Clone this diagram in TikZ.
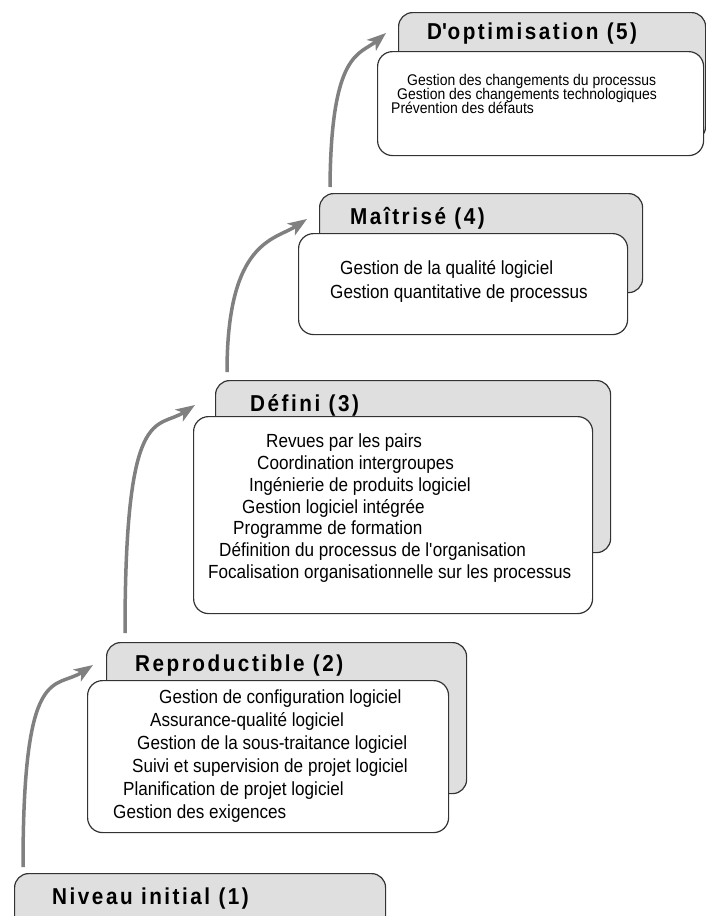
\documentclass[tikz,border=0pt]{standalone}
\usepackage{fontspec}
\setmainfont{Liberation Sans}
\newfontfamily\titlefont[LetterSpace=11,FakeStretch=0.9]{Liberation Sans}
\newfontfamily\bodyfont[FakeStretch=0.9]{Liberation Sans}
\newcommand\sq{\XeTeXglyph\XeTeXcharglyph"27\relax}
\usetikzlibrary{arrows.meta}
\begin{document}
\begin{tikzpicture}[x=1pt,y=-1pt,
  greybox/.style={draw=black!80, line width=1.2pt, fill=gray!25, rounded corners=14pt, inner sep=0pt, anchor=north west},
  whitebox/.style={draw=black!80, line width=1.2pt, fill=white, rounded corners=15pt, inner sep=0pt, anchor=north west},
  title/.style={inner sep=0pt, anchor=base west, font=\titlefont\bfseries\fontsize{23}{26}\selectfont},
  body/.style={inner sep=0pt, anchor=base west, font=\bodyfont\fontsize{19}{22}\selectfont},
  smallbody/.style={inner sep=0pt, anchor=base west, font=\bodyfont\fontsize{15.5}{18}\selectfont},
  arr/.style={draw=black!50, line width=3.5pt, -{Stealth[length=19pt,width=14pt,inset=5pt]}}]
\useasboundingbox (0,0) rectangle (706,916);
\fill[white] (0,0) rectangle (706,916);

% Level 1
\node[greybox, minimum width=371pt, minimum height=70pt] (g1) at (14,873) {};
\node[title] (n1) at (52,904) {Niveau initial (1)};

% Level 2
\node[greybox, minimum width=360pt, minimum height=151pt] (g2) at (106,642) {};
\node[whitebox, minimum width=361pt, minimum height=152pt] (w2) at (87,680) {};
\node[title] (n2) at (135,671) {Reproductible (2)};
\node[body] (t2a) at (159,703) {Gestion de configuration logiciel};
\node[body] (t2b) at (150,726) {Assurance-qualité logiciel};
\node[body] (t2c) at (137,749) {Gestion de la sous-traitance logiciel};
\node[body] (t2d) at (132,772) {Suivi et supervision de projet logiciel};
\node[body] (t2e) at (123,795) {Planification de projet logiciel};
\node[body] (t2f) at (113,818) {Gestion des exigences};

% Level 3
\node[greybox, minimum width=395pt, minimum height=172pt] (g3) at (215,380) {};
\node[whitebox, minimum width=399pt, minimum height=197pt] (w3) at (193,416) {};
\node[title] (n3) at (250,411) {Défini (3)};
\node[body] (t3a) at (266,447) {Revues par les pairs};
\node[body] (t3b) at (257,469) {Coordination intergroupes};
\node[body] (t3c) at (249,491) {Ingénierie de produits logiciel};
\node[body] (t3d) at (242,513) {Gestion logiciel intégrée};
\node[body] (t3e) at (233,534) {Programme de formation};
\node[body] (t3f) at (219,556) {Définition du processus de l\sq organisation};
\node[body] (t3g) at (208,578) {Focalisation organisationnelle sur les processus};

% Level 4
\node[greybox, minimum width=323pt, minimum height=99pt] (g4) at (319,193) {};
\node[whitebox, minimum width=329pt, minimum height=101pt] (w4) at (298,233) {};
\node[title] (n4) at (350,224) {Maîtrisé (4)};
\node[body] (t4a) at (340,274) {Gestion de la qualité logiciel};
\node[body] (t4b) at (330,298.5) {Gestion quantitative de processus};

% Level 5
\node[greybox, minimum width=307pt, minimum height=128pt] (g5) at (398,12) {};
\node[whitebox, minimum width=326pt, minimum height=104pt] (w5) at (377,51) {};
\node[title] (n5) at (427,39) {D\sq optimisation (5)};
\node[smallbody] (t5a) at (407,85) {Gestion des changements du processus};
\node[smallbody] (t5b) at (397,99) {Gestion des changements technologiques};
\node[smallbody] (t5c) at (391,113) {Prévention des défauts};

% Arrows
\coordinate (a1s) at (23,867);  \coordinate (a1e) at (93,665);
\coordinate (a2s) at (125,633); \coordinate (a2e) at (195,405);
\coordinate (a3s) at (227,372); \coordinate (a3e) at (307,219);
\coordinate (a4s) at (330,187); \coordinate (a4e) at (386,33);
\draw[arr] (a1s) .. controls +(0,-207) and +(-38,25) .. (a1e);
\draw[arr] (a2s) .. controls +(0,-233) and +(-38,25) .. (a2e);
\draw[arr] (a3s) .. controls +(0,-132) and +(-32,21) .. (a3e);
\draw[arr] (a4s) .. controls +(1,-137) and +(-26,22) .. (a4e);
\end{tikzpicture}
\end{document}
